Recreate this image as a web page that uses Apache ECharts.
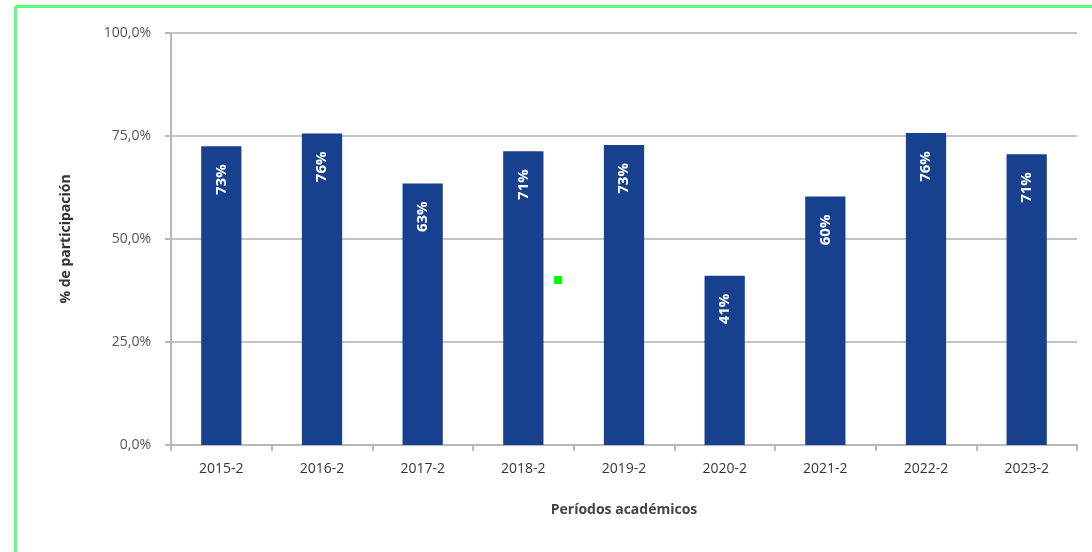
<!DOCTYPE html>
<html>
<head>
<meta charset="utf-8">
<script src="https://cdn.jsdelivr.net/npm/echarts@6/dist/echarts.min.js"></script>
<style>
html,body{margin:0;padding:0;background:#fff;}
#c{width:1092px;height:552px;}
</style>
</head>
<body>
<div id="c"></div>
<script>
var categories = ['2015-2','2016-2','2017-2','2018-2','2019-2','2020-2','2021-2','2022-2','2023-2'];
var participation = [72.5, 75.6, 63.5, 71.3, 72.8, 41.1, 60.3, 75.7, 70.6];
var labelText = ['73%','76%','63%','71%','73%','41%','60%','76%','71%'];
var yTicks = [0, 25, 50, 75, 100];

var chart = echarts.init(document.getElementById('c'), null, {renderer:'canvas'});
chart.setOption({
  animation: false,
  backgroundColor: '#fff',
  grid: {left: 171, right: 15, top: 33, bottom: 107},
  graphic: [
    {type:'line', shape:{x1:15.5, y1:6.5, x2:1092, y2:6.5}, style:{stroke:'#5cff7a', lineWidth:3}},
    {type:'line', shape:{x1:15.5, y1:6.5, x2:15.5, y2:552}, style:{stroke:'#5cff7a', lineWidth:3}},
    {type:'rect', shape:{x:554, y:276, width:8, height:8}, style:{fill:'#00ff00'}}
  ],
  xAxis: {
    type: 'category',
    data: categories,
    boundaryGap: true,
    name: 'Períodos académicos',
    nameLocation: 'middle',
    nameGap: 58,
    nameTextStyle: {fontFamily:'Open Sans', fontSize:14, fontWeight:'bold', color:'#444'},
    axisLine: {lineStyle:{color:'#b8b8b8', width:2}},
    axisTick: {show:true, alignWithLabel:false, length:6, lineStyle:{color:'#b8b8b8', width:2}},
    axisLabel: {fontFamily:'Open Sans', fontSize:14, color:'#333', margin:17}
  },
  yAxis: {
    type: 'value',
    min: 0, max: 100, interval: 25,
    name: '% de participación',
    nameLocation: 'middle',
    nameGap: 98,
    nameRotate: 90,
    nameTextStyle: {fontFamily:'Open Sans', fontSize:14, fontWeight:'bold', color:'#333'},
    axisLine: {show:true, lineStyle:{color:'#b8b8b8', width:2}},
    axisTick: {show:true, length:6, lineStyle:{color:'#b8b8b8', width:2}},
    axisLabel: {fontFamily:'Open Sans', fontSize:14, color:'#555', margin:20,
      formatter: function(v){ return v.toFixed(1).replace('.', ',') + '%'; }},
    splitLine: {lineStyle:{color:'#c4c4c4', width:2}}
  },
  series: [{
    type: 'bar',
    data: participation,
    barWidth: '40%',
    itemStyle: {color:'#17408f'},
    label: {
      show: true,
      position: 'insideTop',
      rotate: 90,
      align: 'right',
      verticalAlign: 'middle',
      distance: 18,
      color: '#fff',
      fontFamily: 'Open Sans',
      fontWeight: 'bold',
      fontSize: 15,
      formatter: function(p){ return labelText[p.dataIndex]; }
    }
  }]
});
</script>
</body>
</html>
